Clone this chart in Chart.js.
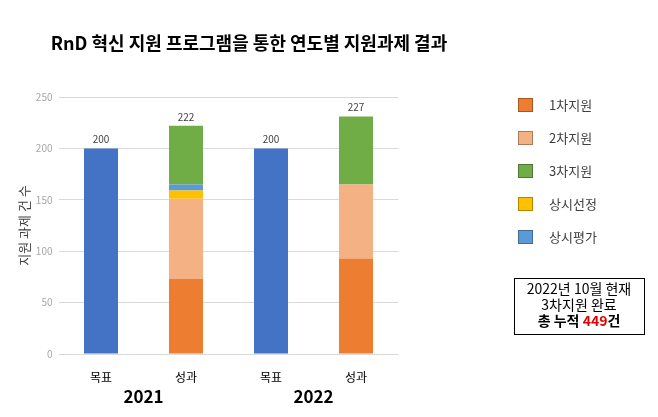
<!DOCTYPE html>
<html>
<head>
<meta charset="utf-8">
<script src="https://cdn.jsdelivr.net/npm/chart.js@4"></script>
<style>
  body { margin: 0; background: #fff; }
  #wrap { width: 658px; height: 417px; }
</style>
</head>
<body>
<div id="wrap"><canvas id="chart"></canvas></div>
<script>
const categories = ["목표", "성과", "목표", "성과"];
const years = ["2021", "2022"];
const target = [200, null, 200, null];
const round1 = [null, 73, null, 93];
const round2 = [null, 78, null, 72];
const regularSelect = [null, 8, null, null];
const regularEval = [null, 6, null, null];
const round3 = [null, 57, null, 66];
const totalLabels = [200, 222, 200, 227];
const yTicks = [0, 50, 100, 150, 200, 250];
const noteLines = ["2022년 10월 현재", "3차지원 완료"];
const noteTotal = 449;

const FONT = "'Noto Sans CJK KR', 'Noto Sans', sans-serif";
Chart.defaults.font.family = FONT;

// legend order differs from stacking order
const legendOrder = ["1차지원", "2차지원", "3차지원", "상시선정", "상시평가"];

const extras = {
  id: "extras",
  afterDatasetsDraw(chart) {
    const ctx = chart.ctx;
    const x = chart.scales.x, y = chart.scales.y;
    ctx.save();

    // value labels on top of each bar
    ctx.font = "10px " + FONT;
    ctx.fillStyle = "#404040";
    ctx.textAlign = "center";
    ctx.textBaseline = "middle";
    categories.forEach((c, i) => {
      let sum = 0;
      chart.data.datasets.forEach(ds => { sum += ds.data[i] || 0; });
      ctx.fillText(totalLabels[i], x.getPixelForValue(i), y.getPixelForValue(sum) - 9);
    });

    // year labels under each pair
    ctx.font = "bold 17px " + FONT;
    ctx.fillStyle = "#000";
    years.forEach((yr, k) => {
      const cx = (x.getPixelForValue(k * 2) + x.getPixelForValue(k * 2 + 1)) / 2;
      ctx.fillText(yr, cx, 397);
    });

    // title
    ctx.font = "bold 18px " + FONT;
    ctx.fillText("RnD 혁신 지원 프로그램을 통한 연도별 지원과제 결과", 249, 43);

    // legend
    ctx.textAlign = "left";
    ctx.font = "13px " + FONT;
    legendOrder.forEach((name, k) => {
      const ds = chart.data.datasets.find(d => d.label === name);
      const ly = 105 + k * 33;
      ctx.fillStyle = ds.backgroundColor;
      ctx.fillRect(518, ly - 7, 15, 14);
      ctx.strokeStyle = "rgba(0,0,0,0.3)";
      ctx.lineWidth = 1;
      ctx.strokeRect(518.5, ly - 6.5, 14, 13);
      ctx.fillStyle = "#404040";
      ctx.fillText(name, 549, ly);
    });

    // note box
    ctx.strokeStyle = "#000";
    ctx.strokeRect(514.5, 278.5, 130, 56);
    ctx.textAlign = "center";
    ctx.fillStyle = "#000";
    ctx.font = "14px " + FONT;
    noteLines.forEach((t, k) => ctx.fillText(t, 579, 289 + k * 16));
    ctx.font = "bold 14px " + FONT;
    const a = "총 누적 ", b = String(noteTotal), c = "건";
    const wa = ctx.measureText(a).width, wb = ctx.measureText(b).width, wc = ctx.measureText(c).width;
    let sx = 579 - (wa + wb + wc) / 2;
    ctx.textAlign = "left";
    ctx.fillText(a, sx, 321);
    ctx.fillStyle = "#e00000";
    ctx.fillText(b, sx + wa, 321);
    ctx.fillStyle = "#000";
    ctx.fillText(c, sx + wa + wb, 321);

    ctx.restore();
  }
};

new Chart(document.getElementById("chart"), {
  type: "bar",
  data: {
    labels: categories,
    datasets: [
      { label: "목표", data: target, backgroundColor: "#4472C4" },
      { label: "1차지원", data: round1, backgroundColor: "#ED7D31" },
      { label: "2차지원", data: round2, backgroundColor: "#F4B183" },
      { label: "상시선정", data: regularSelect, backgroundColor: "#FFC000" },
      { label: "상시평가", data: regularEval, backgroundColor: "#5B9BD5" },
      { label: "3차지원", data: round3, backgroundColor: "#70AD47" }
    ]
  },
  options: {
    responsive: true,
    maintainAspectRatio: false,
    animation: false,
    categoryPercentage: 1,
    barPercentage: 0.4,
    layout: { padding: { top: 97, right: 259.5, left: 0, bottom: 0 } },
    plugins: {
      legend: { display: false },
      tooltip: { enabled: false }
    },
    scales: {
      x: {
        stacked: true,
        grid: { display: false },
        border: { display: false },
        ticks: { color: "#000", font: { size: 12 }, padding: 8 },
        afterFit(s) { s.height = 63; }
      },
      y: {
        stacked: true,
        min: 0,
        max: 250,
        afterBuildTicks(s) { s.ticks = yTicks.map(v => ({ value: v })); },
        grid: { color: "#d9d9d9", drawTicks: false },
        border: { display: false },
        ticks: { color: "#a6a6a6", font: { size: 10 }, padding: 6 },
        title: {
          display: true,
          text: "지원 과제 건 수",
          color: "#404040",
          font: { size: 13 },
          padding: { top: 16, bottom: 0 }
        },
        afterFit(s) { s.width = 58.5; }
      }
    }
  },
  plugins: [extras]
});
</script>
</body>
</html>
